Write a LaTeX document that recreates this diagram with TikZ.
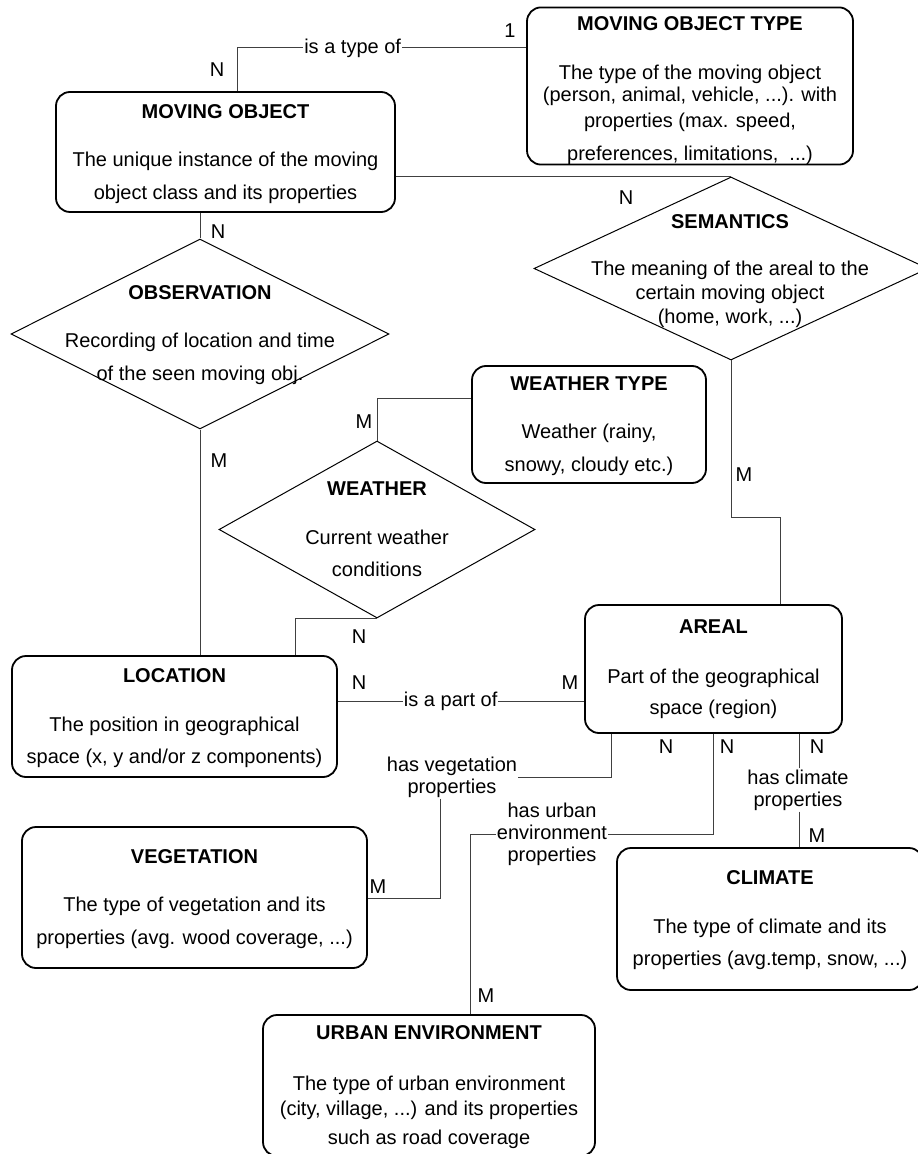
\documentclass[tikz,border=0pt]{standalone}
\usepackage{fontspec}
\setmainfont{Liberation Sans}
\usetikzlibrary{shapes.geometric,positioning}

\begin{document}
\begin{tikzpicture}[
  x=0.5pt, y=-0.5pt,
  font=\fontsize{10}{12}\selectfont,
  entity/.style={rectangle, rounded corners=7pt, draw=black, line width=0.9pt,
                 align=center, inner sep=0pt},
  relation/.style={diamond, draw=black, line width=0.5pt, inner sep=0pt},
  reltext/.style={align=center, inner sep=0pt},
  conn/.style={draw=black!75, line width=0.5pt},
  rlabel/.style={fill=white, align=center, inner sep=0.5pt,
                 font=\fontsize{10}{11}\selectfont},
  card/.style={inner sep=0pt}
]
  \useasboundingbox (0,0) rectangle (917,1154);

  % entities
  \node[entity, minimum width=169.5pt, minimum height=60pt] (mo) at (225.5,152)
    {\rule{0pt}{9pt}\textbf{MOVING OBJECT}\\[12pt]The unique instance of the moving\\[4.5pt]object class and its properties};
  \node[entity, minimum width=163pt, minimum height=77pt] (mot) at (690,86)
    {\rule{0pt}{11.5pt}\textbf{MOVING OBJECT TYPE}\\[12.5pt]The type of the moving object\\[-1pt](person, animal, vehicle, ...). with\\[1pt]properties (max. speed,\\[4.5pt]preferences, limitations, \ ...)};
  \node[entity, minimum width=117pt, minimum height=58.5pt] (wt) at (589,424.5)
    {\rule{0pt}{9pt}\textbf{WEATHER TYPE}\\[12pt]Weather (rainy,\\[4.5pt]snowy, cloudy etc.)};
  \node[entity, minimum width=128.5pt, minimum height=64pt] (areal) at (713.5,669)
    {\textbf{AREAL}\\[13pt]Part of the geographical\\[3.5pt]space (region)};
  \node[entity, minimum width=162.5pt, minimum height=60.5pt] (loc) at (174.5,716.5)
    {\rule{0pt}{8.5pt}\textbf{LOCATION}\\[12.5pt]The position in geographical\\[4pt]space (x, y and/or z components)};
  \node[entity, minimum width=172.5pt, minimum height=70.5pt] (veg) at (194.5,897.5)
    {\rule{0pt}{9pt}\textbf{VEGETATION}\\[12pt]The type of vegetation and its\\[4.5pt]properties (avg. wood coverage, ...)};
  \node[entity, minimum width=153pt, minimum height=71pt] (clim) at (770,919)
    {\rule{0pt}{8.5pt}\textbf{CLIMATE}\\[12.5pt]The type of climate and its\\[4pt]properties (avg.temp, snow, ...)};
  \node[entity, minimum width=166pt, minimum height=70.5pt] (urb) at (429,1085.5)
    {\rule{0pt}{9pt}\textbf{URBAN ENVIRONMENT}\\[13.5pt]The type of urban environment\\[0.5pt](city, village, ...) and its properties\\[2.5pt]such as road coverage};

  % relations
  \node[relation, minimum width=189pt, minimum height=95pt] (obs) at (200,334) {};
  \node[reltext] (obs-txt) at (200,335)
    {\textbf{OBSERVATION}\\[12pt]Recording of location and time\\[4.5pt]of the seen moving obj.};
  \node[relation, minimum width=197pt, minimum height=91.5pt] (sem) at (731,268.5) {};
  \node[reltext] (sem-txt) at (730,271.5)
    {\textbf{SEMANTICS}\\[11.5pt]The meaning of the areal to the\\certain moving object\\(home, work, ...)};
  \node[relation, minimum width=158pt, minimum height=88.5pt] (wea) at (377,529.5) {};
  \node[reltext] (wea-txt) at (377,529)
    {\textbf{WEATHER}\\[12.5pt]Current weather\\[4pt]conditions};

  % labels on the lines
  \node[rlabel] (vegrel) at (452,777) {has vegetation\\properties};
  \node[rlabel] (urbrel) at (552,834) {has urban\\environment\\properties};
  \node[rlabel] (climrel) at (798,790) {has climate\\properties};

  % connectors
  \draw[conn] (237,0 |- mo.north) |- node[rlabel, pos=0.70] (typeof) {is a type of} (mot.west |- 0,48);
  \draw[conn] (mo.east |- sem.north) -- (sem.north);
  \draw[conn] (obs.north |- mo.south) -- (obs.north);
  \draw[conn] (obs.south) -- (obs.south |- loc.north);
  \draw[conn] (wt.west |- 0,398) -| (wea.north);
  \draw[conn] (wea.south) -| (295,0 |- loc.north);
  \draw[conn] (sem.south) -- (sem.south |- 0,517) -| (780,0 |- areal.north);
  \draw[conn] (loc.east |- 0,701) -- node[rlabel, pos=0.458] (partof) {is a part of} (areal.west |- 0,701);
  \draw[conn] (611,0 |- areal.south) |- (vegrel.east);
  \draw[conn] (vegrel.south -| 440,0) |- (veg.east |- 0,898);
  \draw[conn] (713,0 |- areal.south) |- (urbrel.east);
  \draw[conn] (urbrel.west) -| (470,0 |- urb.north);
  \draw[conn] (climrel.north -| 799,0) -- (799,0 |- areal.south);
  \draw[conn] (climrel.south -| 799,0) -- (799,0 |- clim.north);

  % cardinalities
  \foreach \x/\y/\t [count=\i] in {217/70/N, 510/31/1, 626/198/N, 218/232/N,
      219/461/M, 364/422/M, 359/637/N, 359/683/N, 570/683/M, 744/475/M,
      666/747/N, 727/747/N, 817/747/N, 817/836/M, 378/887/M, 486/996/M}
    \node[card] (card\i) at (\x,\y) {\t};
\end{tikzpicture}
\end{document}
